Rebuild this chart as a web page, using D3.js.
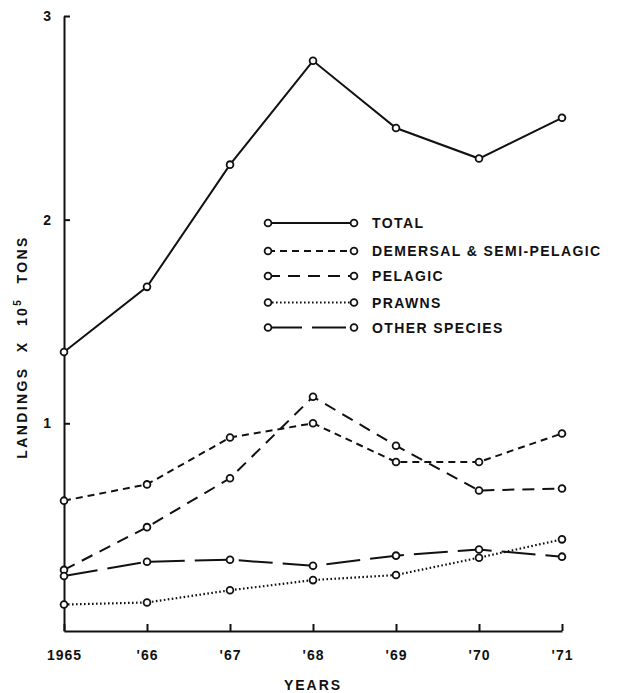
<!DOCTYPE html>
<html><head><meta charset="utf-8">
<script src="https://cdn.jsdelivr.net/npm/d3@7"></script>
<style>
html,body{margin:0;padding:0;background:#fff;}
text{font-family:"Liberation Sans",Arial,sans-serif;font-weight:bold;fill:#111;}
</style></head>
<body><svg id="c" width="619" height="693"></svg>
<script>
const years = [1965, 1966, 1967, 1968, 1969, 1970, 1971];
const yearLabels = ["1965", "'66", "'67", "'68", "'69", "'70", "'71"];
const yTicks = [1, 2, 3];
const seriesNames = ["TOTAL", "DEMERSAL & SEMI-PELAGIC", "PELAGIC", "PRAWNS", "OTHER SPECIES"];
const total = [1.35, 1.67, 2.27, 2.78, 2.45, 2.30, 2.50];
const demersal = [0.62, 0.70, 0.93, 1.00, 0.81, 0.81, 0.95];
const pelagic = [0.28, 0.49, 0.73, 1.13, 0.89, 0.67, 0.68];
const prawns = [0.11, 0.12, 0.18, 0.23, 0.255, 0.34, 0.43];
const other = [0.25, 0.32, 0.33, 0.30, 0.35, 0.38, 0.345];

const series = [
  {name: seriesNames[0], values: total, dash: null, w: 2},
  {name: seriesNames[1], values: demersal, dash: "7,5", w: 2},
  {name: seriesNames[2], values: pelagic, dash: "12,8", w: 2},
  {name: seriesNames[3], values: prawns, dash: "1.6,2.4", w: 2.2},
  {name: seriesNames[4], values: other, dash: "34,10", w: 2}
];

const svg = d3.select("#c");
const x = d3.scaleLinear().domain([1965, 1971]).range([64, 562]);
const y = d3.scaleLinear().domain([-0.02, 3]).range([631, 16]);

// axes
const xAxis = d3.axisBottom(x).tickValues(years).tickSizeInner(-7).tickSizeOuter(0).tickPadding(19)
  .tickFormat((d, i) => yearLabels[i]);
const gx = svg.append("g").attr("transform", "translate(0,631)").call(xAxis);
gx.selectAll("text").style("font-size", "14px").attr("letter-spacing", "1px");
gx.select(".domain").attr("stroke-width", 2).attr("stroke", "#111");
gx.selectAll(".tick line").attr("stroke-width", 2).attr("stroke", "#111");

const yAxis = d3.axisLeft(y).tickValues(yTicks).tickSizeInner(-6).tickSizeOuter(0).tickPadding(13)
  .tickFormat(d3.format("d"));
const gy = svg.append("g").attr("transform", "translate(64,0)").call(yAxis);
gy.selectAll("text").style("font-size", "14px");
gy.select(".domain").attr("stroke-width", 2).attr("stroke", "#111");
gy.selectAll(".tick line").attr("stroke-width", 2).attr("stroke", "#111");

// axis titles
svg.append("text").attr("x", 313).attr("y", 690).attr("text-anchor", "middle")
  .style("font-size", "14px").attr("letter-spacing", "2px").text("YEARS");
const yt = svg.append("text").attr("transform", "translate(27,347) rotate(-90)")
  .attr("text-anchor", "middle").style("font-size", "14px")
  .attr("letter-spacing", "2.4px").attr("word-spacing", "8px");
yt.append("tspan").text("LANDINGS X 10");
yt.append("tspan").attr("dy", -6).style("font-size", "10px").text("5");
yt.append("tspan").attr("dy", 6).text(" TONS");

// lines
const line = d3.line().x((d, i) => x(years[i])).y(d => y(d));
series.forEach(s => {
  svg.append("path").datum(s.values).attr("d", line)
    .attr("fill", "none").attr("stroke", "#111").attr("stroke-width", s.w)
    .attr("stroke-dasharray", s.dash);
  svg.append("g").selectAll("circle").data(s.values).join("circle")
    .attr("cx", (d, i) => x(years[i])).attr("cy", d => y(d)).attr("r", 3.4)
    .attr("fill", "#fff").attr("stroke", "#111").attr("stroke-width", 1.8);
});

// legend
const legendY = [223, 251, 276, 302.5, 327.5];
series.forEach((s, i) => {
  const g = svg.append("g").attr("transform", `translate(0,${legendY[i]})`);
  g.append("line").attr("x1", 268).attr("x2", 354).attr("y1", 0).attr("y2", 0)
    .attr("stroke", "#111").attr("stroke-width", s.w).attr("stroke-dasharray", s.dash);
  [268, 354].forEach(cx => g.append("circle").attr("cx", cx).attr("cy", 0).attr("r", 3.4)
    .attr("fill", "#fff").attr("stroke", "#111").attr("stroke-width", 1.8));
  g.append("text").attr("x", 372).attr("y", 0).attr("dy", "0.36em")
    .style("font-size", "14px").attr("letter-spacing", "1.4px").text(s.name);
});
</script></body></html>
